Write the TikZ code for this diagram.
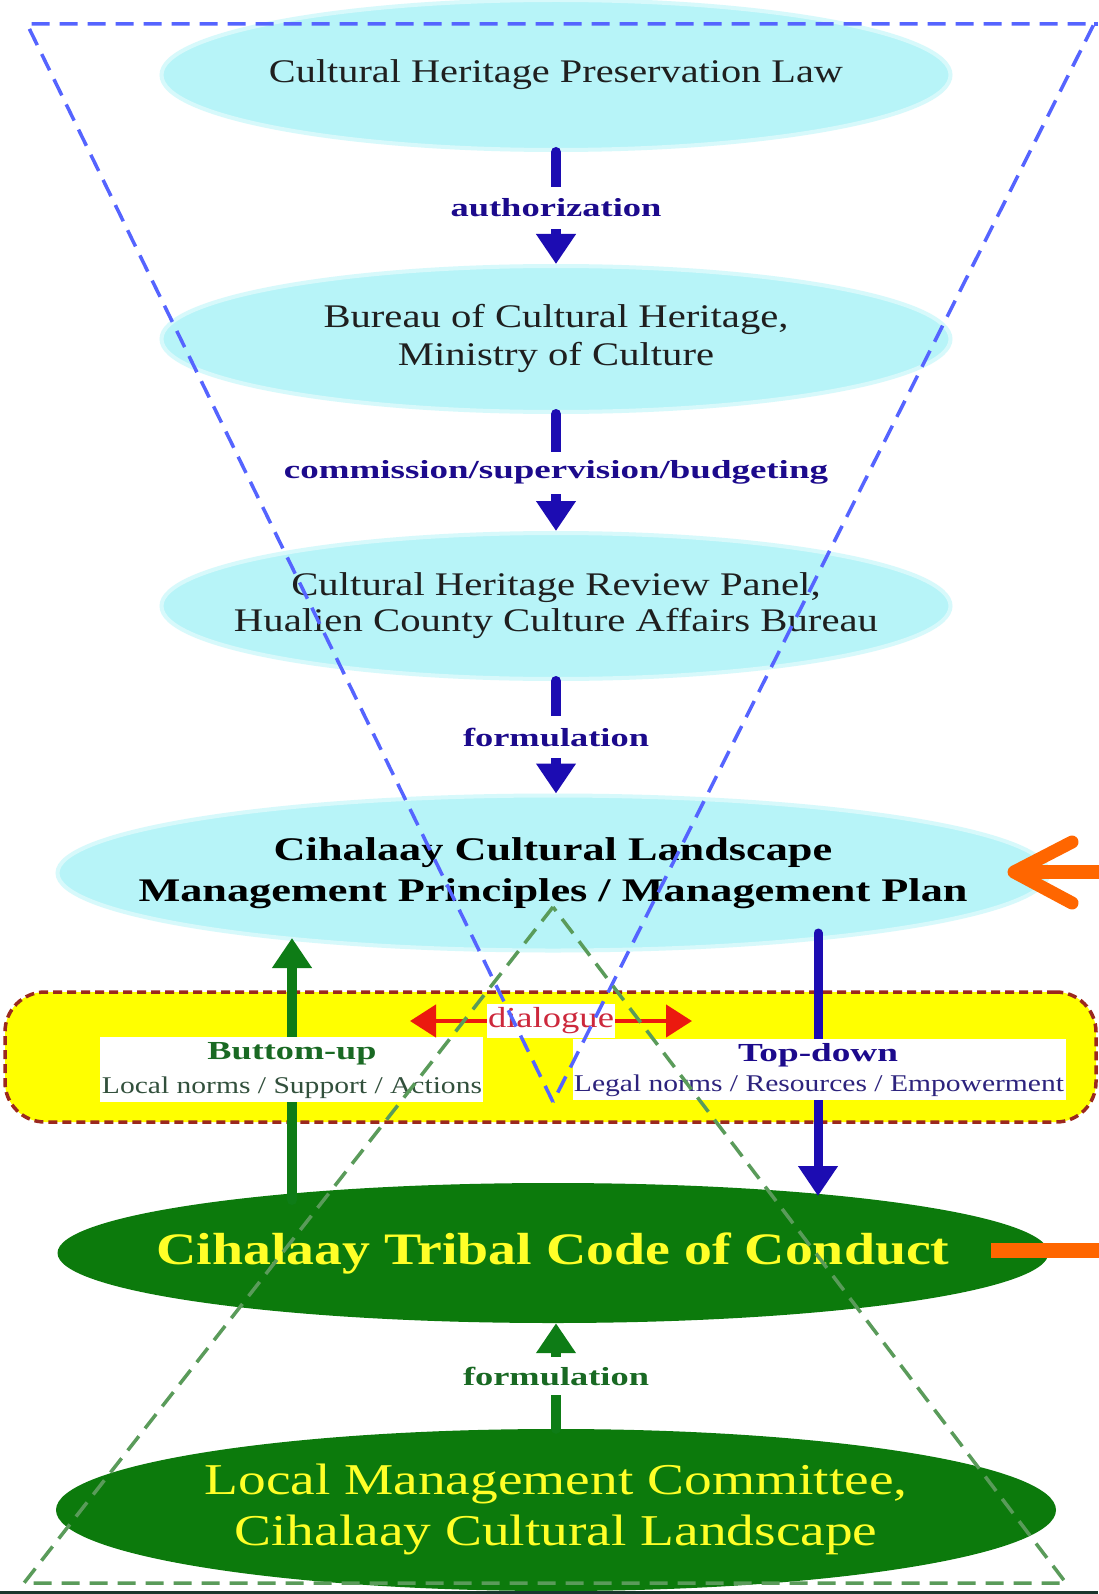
\documentclass[tikz,border=0pt]{standalone}
\usepackage{fontspec}
\setmainfont{Liberation Serif}
\usetikzlibrary{arrows.meta,shapes.geometric}
\newcommand\fitw[2]{\resizebox{#1}{\height}{#2}}
\newcommand\zw[1]{\makebox[0pt][c]{#1}}
\definecolor{ellcyan}{RGB}{183,244,248}
\definecolor{dkgreen}{RGB}{12,122,12}
\definecolor{txtyellow}{RGB}{255,255,40}
\definecolor{navyarr}{RGB}{28,12,178}
\definecolor{navytxt}{RGB}{28,10,140}
\definecolor{grarr}{RGB}{14,124,22}
\definecolor{grtxt}{RGB}{25,105,35}
\definecolor{boxyellow}{RGB}{255,255,0}
\definecolor{boxborder}{RGB}{155,40,30}
\definecolor{dlgred}{RGB}{235,25,15}
\definecolor{dlgtxt}{RGB}{205,40,60}
\definecolor{bluedash}{RGB}{85,100,255}
\definecolor{greendash}{RGB}{90,155,90}
\definecolor{orng}{RGB}{255,102,0}
\definecolor{normgreen}{RGB}{50,80,60}
\definecolor{normblue}{RGB}{45,35,125}
\definecolor{darkstrip}{RGB}{25,55,45}
\begin{document}
\begin{tikzpicture}[x=1pt,y=-1pt,
  cyanell/.style={ellipse, fill=ellcyan, draw=ellcyan!55, line width=4pt, inner sep=0pt, text=black!88},
  greenell/.style={ellipse, fill=dkgreen, inner sep=0pt, text=txtyellow},
  flowarrow/.style={line width=10pt, line cap=round, -{Triangle[length=30pt,width=38pt]}},
  flowlab/.style={fill=white, inner xsep=3pt, inner ysep=0pt, minimum height=42pt, font=\fontsize{26}{30}\selectfont\bfseries},
  sidehead/.style={font=\fontsize{26}{30}\selectfont\bfseries},
  sidenorm/.style={font=\fontsize{24}{28}\selectfont},
  whitebox/.style={fill=white, inner sep=0pt},
  dashline/.style={line width=3.5pt, dash pattern=on 18pt off 10pt}
]
\useasboundingbox (0,0) rectangle (1098,1594);
\fill[white] (0,0) rectangle (1098,1594);

% ellipses
\node[cyanell, minimum width=789pt, minimum height=150pt, font=\fontsize{33}{36}\selectfont] (e1) at (556,75)
  {\zw{\fitw{574pt}{Cultural Heritage Preservation Law}}};
\node[cyanell, minimum width=789pt, minimum height=146pt, font=\fontsize{33}{38}\selectfont] (e2) at (556,339)
  {\zw{\fitw{465pt}{\begin{tabular}{@{}c@{}}Bureau of Cultural Heritage,\\Ministry of Culture\end{tabular}}}};
\node[cyanell, minimum width=789pt, minimum height=146pt, font=\fontsize{33}{36}\selectfont] (e3) at (556,606)
  {\zw{\fitw{644pt}{\begin{tabular}{@{}c@{}}Cultural Heritage Review Panel,\\Hualien County Culture Affairs Bureau\end{tabular}}}};
\node[cyanell, minimum width=991pt, minimum height=155pt, font=\fontsize{33}{41}\selectfont\bfseries, text=black] (e4) at (553,873)
  {\zw{\fitw{829pt}{\begin{tabular}{@{}c@{}}Cihalaay Cultural Landscape\\Management Principles / Management Plan\end{tabular}}}};
\node[greenell, minimum width=991pt, minimum height=140pt, font=\fontsize{45}{50}\selectfont\bfseries] (e5) at (553,1253)
  {\zw{\fitw{793pt}{Cihalaay Tribal Code of Conduct}}};
\node[greenell, minimum width=1000pt, minimum height=162pt, font=\fontsize{44}{51}\selectfont] (e6) at (556,1510)
  {\zw{\fitw{703pt}{\begin{tabular}{@{}c@{}}Local Management Committee,\\Cihalaay Cultural Landscape\end{tabular}}}};

% top-down flow arrows
\draw[flowarrow, navyarr] (e1) -- node[flowlab, text=navytxt] (l1) {\fitw{211pt}{authorization}} (e2);
\draw[flowarrow, navyarr] (e2) -- node[flowlab, text=navytxt] (l2) {\fitw{544pt}{commission/supervision/budgeting}} (e3);
\draw[flowarrow, navyarr] (e3.south) -- node[flowlab, text=navytxt] (l3) {\fitw{186pt}{formulation}} (e3.south |- e4.north);

% yellow dialogue box
\node[draw=boxborder, fill=boxyellow, rounded corners=40pt, line width=3.5pt, dash pattern=on 9pt off 5pt,
      minimum width=1091pt, minimum height=130pt, inner sep=0pt] (ybox) at (550.5,1057) {};

% side arrows
\coordinate (buS) at (292,1200);
\coordinate (buN) at (292,938);
\draw[flowarrow, grarr] (buS) -- (buN);
\coordinate (tdN) at (818,933);
\coordinate (tdS) at (818,1196);
\draw[flowarrow, navyarr, line width=9pt] (tdN) -- (tdS);

% white label boxes
\node[whitebox, minimum width=383pt, minimum height=65pt] (lbox) at (291.5,1069.5) {};
\node[whitebox, minimum width=493pt, minimum height=61pt] (rbox) at (819.5,1069.5) {};
\node[sidehead, text=grtxt] (bu) at (292,1054) {\fitw{169pt}{Buttom-up}};
\node[sidenorm, text=normgreen] (ln) at (292,1088) {\fitw{380pt}{Local norms / Support / Actions}};
\node[sidehead, text=navytxt] (td) at (818,1055) {\fitw{160pt}{Top-down}};
\node[sidenorm, text=normblue] (lg) at (819,1086) {\fitw{490pt}{Legal norms / Resources / Empowerment}};

% dialogue arrow
\coordinate (dlL) at (410,1021);
\coordinate (dlR) at (692,1021);
\draw[line width=4.5pt, dlgred, {Triangle[length=26pt,width=32pt]}-{Triangle[length=26pt,width=32pt]}] (dlL) --
  node[fill=white, inner sep=0pt, minimum width=128pt, minimum height=34pt, font=\fontsize{29}{30}\selectfont, text=dlgtxt] (dlg) {\fitw{126pt}{dialogue}} (dlR);

% bottom-up formulation arrow
\draw[flowarrow, grarr] (e6.north) -- node[flowlab, minimum height=38pt, text=grtxt] (l4) {\fitw{186pt}{formulation}} (e6.north |- e5.south);

% dashed triangles
\coordinate (bTL) at (27,24);
\coordinate (bTR) at (1094,24);
\coordinate (bTE) at (1098,24);
\coordinate (bA) at (553,1102);
\draw[dashline, bluedash] (bA) -- (bTL) -- (bTR) -- cycle;
\draw[dashline, bluedash] (bTR) -- (bTE);
\coordinate (gBL) at (24,1583);
\coordinate (gBR) at (1066,1583);
\coordinate (gA) at (553,907);
\draw[dashline, greendash] (gA) -- (gBL) -- (gBR) -- cycle;

% orange markers
\coordinate (o1tip) at (1014,872);
\coordinate (o1end) at (1100,872);
\coordinate (o1a) at (1072,842);
\coordinate (o1b) at (1072,903);
\draw[orng, line width=14pt] (o1tip) -- (o1end);
\draw[orng, line width=13pt, line cap=round, line join=round] (o1a) -- (o1tip) -- (o1b);
\coordinate (o2s) at (991,1250);
\coordinate (o2e) at (1100,1250);
\draw[orng, line width=15pt] (o2s) -- (o2e);

\fill[darkstrip] (0,1591) rectangle (1098,1594);
\end{tikzpicture}
\end{document}
